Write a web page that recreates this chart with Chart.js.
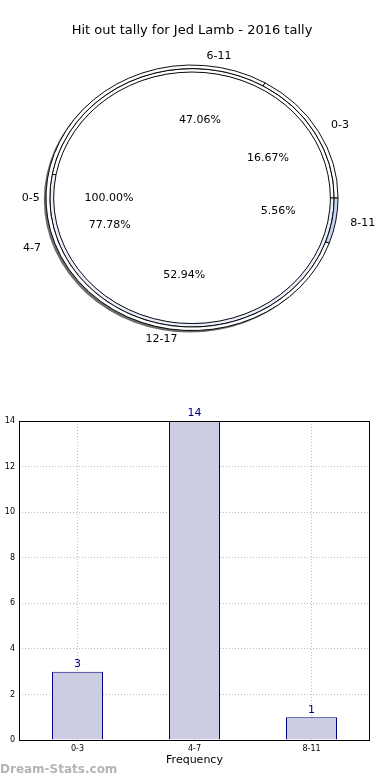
<!DOCTYPE html>
<html>
<head>
<meta charset="utf-8">
<script src="https://cdn.jsdelivr.net/npm/chart.js@4"></script>
<style>
  html, body { margin: 0; padding: 0; background: #fff; }
  #pie-box { position: absolute; left: 0; top: 0; width: 390px; height: 380px; }
  #bar-box { position: absolute; left: 0; top: 400px; width: 390px; height: 380px; }
  #marca { position: absolute; left: 0; top: 762px; font: bold 12px "DejaVu Sans", sans-serif; color: #b4b4b4; }
</style>
</head>
<body>
<div id="pie-box"><canvas id="tarta"></canvas></div>
<div id="bar-box"><canvas id="barras"></canvas></div>
<div id="marca">Dream-Stats.com</div>
<script>
// datos
const frecuencias = ['0-3', '4-7', '8-11'];
const partidos = [3, 14, 1];
const tramosA = ['6-11', '12-17'];
const valoresA = [8, 9];
const tramosB = ['0-5'];
const valoresB = [1];
const ticksY = [0, 2, 4, 6, 8, 10, 12, 14];

const fuente = '"DejaVu Sans", sans-serif';
const escalaX = 1.1; // la tarta original sale achatada

// matplotlib va en sentido antihorario desde las 3, chart.js al reves
const rev = a => a.slice().reverse();

const grupos = [
    { etiquetas: frecuencias, valores: partidos, colores: ['#ffffff', '#ffffff', '#c4d6f4'] },
    { etiquetas: tramosA, valores: valoresA, colores: ['#ffffff', '#e8eefc'] },
    { etiquetas: tramosB, valores: valoresB, colores: ['#ffffff'] }
];

const pesos = [3.5, 3.5, 126];

const elipse = {
    id: 'elipse',
    beforeDatasetsDraw(chart) {
        const arc = chart.getDatasetMeta(0).data[0];
        const ctx = chart.ctx;
        ctx.save();
        ctx.translate(arc.x, arc.y);
        ctx.scale(escalaX, 1);
        ctx.translate(-arc.x, -arc.y);
        // sombra como la de matplotlib, abajo a la izquierda
        ctx.save();
        ctx.fillStyle = 'rgba(60,60,60,0.75)';
        ctx.filter = 'blur(0.6px)';
        ctx.beginPath();
        ctx.arc(arc.x - 2, arc.y + 2, arc.outerRadius, 0, Math.PI * 2);
        ctx.fill();
        ctx.restore();
    },
    afterDatasetsDraw(chart) {
        chart.ctx.restore();
    },
    afterDraw(chart) {
        const ctx = chart.ctx;
        ctx.save();
        ctx.font = '11px ' + fuente;
        ctx.fillStyle = '#000';
        ctx.textBaseline = 'middle';
        grupos.forEach((g, i) => {
            const meta = chart.getDatasetMeta(i);
            const total = g.valores.reduce((a, b) => a + b, 0);
            const etiquetas = rev(g.etiquetas);
            const valores = rev(g.valores);
            meta.data.forEach((arc, j) => {
                const medio = (arc.startAngle + arc.endAngle) / 2;
                const r = arc.outerRadius;
                const cos = Math.cos(medio), sin = Math.sin(medio);
                // nombre fuera
                ctx.textAlign = cos > 0.001 ? 'left' : (cos < -0.001 ? 'right' : 'center');
                ctx.fillText(etiquetas[j], arc.x + 1.1 * r * cos * escalaX, arc.y + 1.1 * r * sin);
                // porcentaje dentro
                ctx.textAlign = 'center';
                const pct = (valores[j] / total * 100).toFixed(2) + '%';
                ctx.fillText(pct, arc.x + 0.6 * r * cos * escalaX, arc.y + 0.6 * r * sin);
            });
        });
        ctx.restore();
    }
};

new Chart(document.getElementById('tarta'), {
    type: 'pie',
    data: {
        labels: rev(frecuencias),
        datasets: grupos.map((g, i) => ({
            data: rev(g.valores),
            backgroundColor: rev(g.colores),
            borderColor: '#000',
            borderWidth: i === 2 ? 0 : 0.9,
            weight: pesos[i]
        }))
    },
    options: {
        responsive: true,
        maintainAspectRatio: false,
        animation: false,
        rotation: 90,
        layout: { padding: { top: 0, bottom: 49, left: 0, right: 6 } },
        plugins: {
            legend: { display: false },
            tooltip: { enabled: false },
            title: {
                display: true,
                text: 'Hit out tally for Jed Lamb - 2016 tally',
                color: '#000',
                font: { family: fuente, size: 13, weight: 'normal' },
                padding: { top: 23, bottom: 26 }
            }
        }
    },
    plugins: [elipse]
});

const marcoYValores = {
    id: 'marcoYValores',
    afterDraw(chart) {
        const { ctx, chartArea } = chart;
        ctx.save();
        ctx.strokeStyle = '#000';
        ctx.lineWidth = 1;
        ctx.strokeRect(chartArea.left + 0.5, chartArea.top + 0.5, chartArea.right - chartArea.left - 1, chartArea.bottom - chartArea.top);
        ctx.fillStyle = '#000080';
        ctx.font = '11px ' + fuente;
        ctx.textAlign = 'center';
        ctx.textBaseline = 'bottom';
        chart.getDatasetMeta(0).data.forEach((barra, i) => {
            ctx.fillText(String(partidos[i]), barra.x, barra.y - 2);
        });
        ctx.restore();
    }
};

new Chart(document.getElementById('barras'), {
    type: 'bar',
    data: {
        labels: frecuencias,
        datasets: [{
            data: partidos,
            backgroundColor: '#cccce3',
            borderColor: '#000080',
            borderWidth: 1,
            barPercentage: 0.436,
            categoryPercentage: 1
        }]
    },
    options: {
        responsive: true,
        maintainAspectRatio: false,
        animation: false,
        layout: { padding: { top: 21, right: 20, left: 0, bottom: 0 } },
        plugins: {
            legend: { display: false },
            tooltip: { enabled: false }
        },
        scales: {
            x: {
                afterFit(s) { s.height = 40; },
                grid: { offset: false, color: '#bdbdbd', drawTicks: false },
                border: { display: false, dash: [1, 2] },
                ticks: { color: '#000', font: { family: fuente, size: 8 }, padding: 4 },
                title: {
                    display: true,
                    text: 'Frequency',
                    color: '#000',
                    font: { family: fuente, size: 11 },
                    padding: { top: 0, bottom: 13 }
                }
            },
            y: {
                min: 0,
                max: 14,
                afterFit(s) { s.width = 19; },
                afterBuildTicks(s) { s.ticks = ticksY.map(v => ({ value: v })); },
                grid: { color: '#bdbdbd', drawTicks: false },
                border: { display: false, dash: [1, 2] },
                ticks: { color: '#000', font: { family: fuente, size: 8 }, padding: 4 }
            }
        }
    },
    plugins: [marcoYValores]
});
</script>
</body>
</html>
